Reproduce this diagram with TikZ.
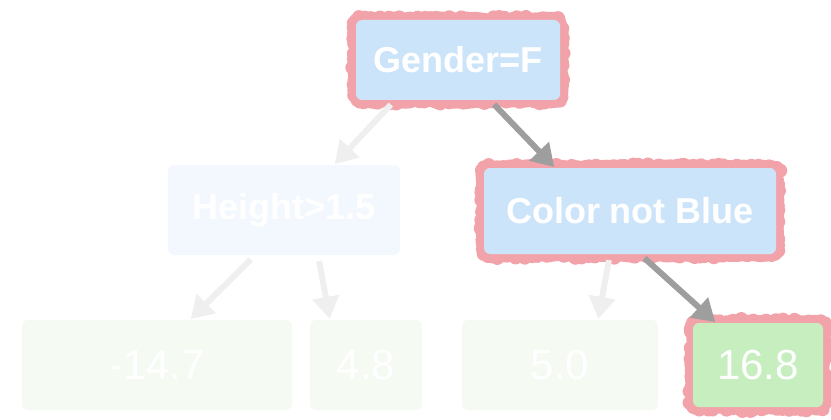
\documentclass[tikz,border=0pt]{standalone}
\usepackage{fontspec}
\setmainfont{Liberation Sans}
\usetikzlibrary{arrows.meta,decorations.pathmorphing}

\definecolor{splitblue}{HTML}{CCE4FA}
\definecolor{fadeblue}{HTML}{F3F8FE}
\definecolor{leafgreen}{HTML}{C6EEBE}
\definecolor{fadegreen}{HTML}{F5FAF3}
\definecolor{pathred}{HTML}{F2A3AA}
\definecolor{arrowgray}{HTML}{9E9E9E}
\definecolor{fadegray}{HTML}{EFEFEF}

\tikzset{
  split/.style={fill=splitblue, rounded corners=6pt, text=white,
    font=\fontsize{36}{40}\selectfont\bfseries, inner sep=0pt},
  leaf/.style={fill=leafgreen, rounded corners=6pt, text=white,
    font=\fontsize{42}{48}\selectfont, inner sep=0pt},
  onpath/.style={preaction={draw=pathred, line width=14pt, line join=round,
    decorate, decoration={random steps, segment length=3pt, amplitude=1.2pt}}},
  arr/.style={-{Triangle[length=22pt, width=26pt]}, line width=6pt,
    draw=arrowgray, shorten <=6pt, shorten >=1pt},
  fadearr/.style={arr, draw=fadegray}
}

\begin{document}
\begin{tikzpicture}[x=1pt, y=-1pt]
\useasboundingbox (0,0) rectangle (831,420);

% Split nodes
\node[split, onpath, minimum width=204pt, minimum height=80pt] (gender) at (458,60) {Gender=F};
\node[split, fill=fadeblue, minimum width=232pt, minimum height=90pt] (height) at (284,210) {Height>1.5};
\node[split, onpath, minimum width=292pt, minimum height=86pt] (color) at (630,211) {Color not Blue};

% Leaves
\node[leaf, fill=fadegreen, minimum width=270pt, minimum height=90pt] (l1) at (157,365) {-14.7};
\node[leaf, fill=fadegreen, minimum width=112pt, minimum height=90pt] (l2) at (366,365) {4.8};
\node[leaf, fill=fadegreen, minimum width=196pt, minimum height=90pt] (l3) at (560,365) {5.0};
\node[leaf, onpath, minimum width=130pt, minimum height=84pt] (l4) at (758,365) {16.8};

% Connectors off the path
\draw[fadearr] ([xshift=-63pt]gender.south) -- ([xshift=50pt]height.north);
\draw[fadearr] ([xshift=-29pt]height.south) -- ([xshift=33pt]l1.north);
\draw[fadearr] ([xshift=34pt]height.south) -- ([xshift=-36pt]l2.north);
\draw[fadearr] ([xshift=-20pt]color.south) -- ([xshift=38pt]l3.north);

% Connectors on the path
\draw[arr] ([xshift=32pt]gender.south) -- ([xshift=-75pt]color.north);
\draw[arr] ([xshift=10pt]color.south) -- ([xshift=-42pt]l4.north);
\end{tikzpicture}
\end{document}
